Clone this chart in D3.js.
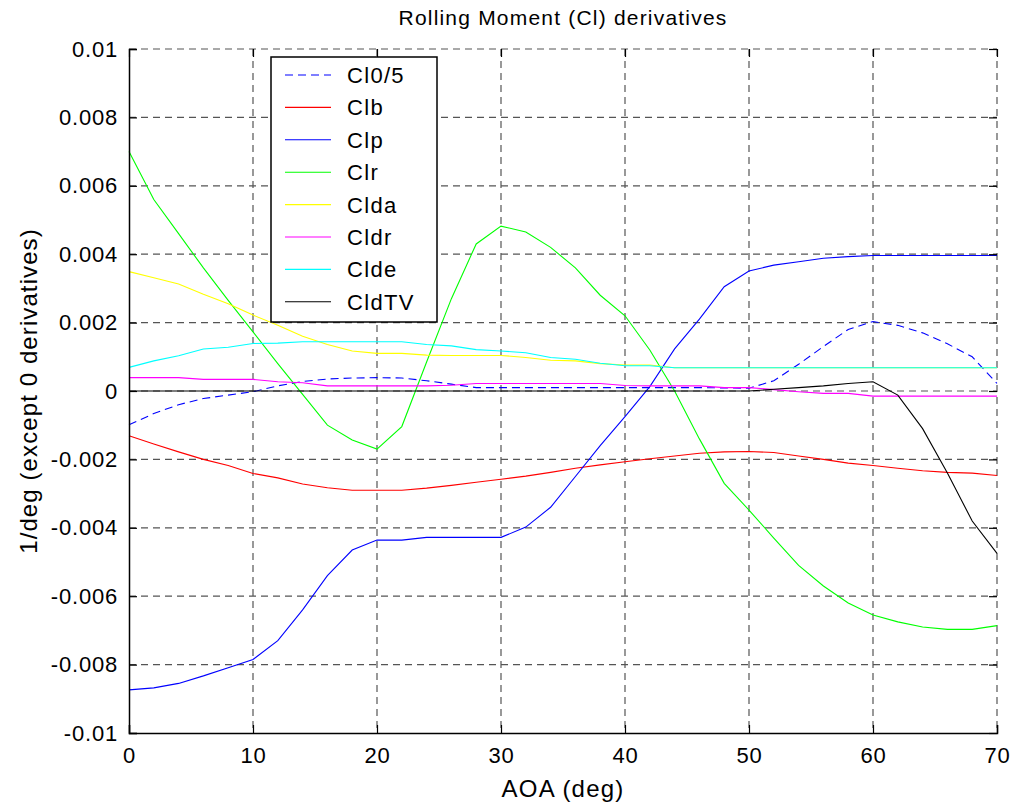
<!DOCTYPE html>
<html>
<head>
<meta charset="utf-8">
<script src="https://cdn.jsdelivr.net/npm/d3@7"></script>
<style>
  html, body { margin: 0; padding: 0; background: #fff; }
  text { font-family: Arial, "Liberation Sans", Helvetica, sans-serif; fill: #000; }
</style>
</head>
<body>
<svg id="chart" width="1015" height="805"></svg>
<script>
// ---------------- data ----------------
const aoa = [0,2,4,6,8,10,12,14,16,18,20,22,24,26,28,30,32,34,36,38,40,42,44,46,48,50,52,54,56,58,60,62,64,66,68,70];

const Cl0_5 = [-0.00099,-0.00066,-0.00040,-0.00022,-0.00012,-0.00002,0.00015,0.00028,0.00035,0.00038,0.00039,0.00038,0.00030,0.00020,0.00010,0.00010,0.00010,0.00010,0.00010,0.00010,0.00010,0.00010,0.00010,0.00010,0.00009,0.00008,0.00030,0.00078,0.00130,0.00180,0.00203,0.00192,0.00170,0.00138,0.00100,0.00022];
const Clb = [-0.00131,-0.00155,-0.00178,-0.00200,-0.00218,-0.00241,-0.00254,-0.00272,-0.00283,-0.00290,-0.00290,-0.00290,-0.00284,-0.00276,-0.00267,-0.00258,-0.00249,-0.00238,-0.00226,-0.00216,-0.00207,-0.00198,-0.00190,-0.00182,-0.00178,-0.00177,-0.00180,-0.00190,-0.00200,-0.00211,-0.00218,-0.00226,-0.00233,-0.00238,-0.00240,-0.00247];
const Clp = [-0.00874,-0.00868,-0.00855,-0.00833,-0.00809,-0.00785,-0.00730,-0.00640,-0.00540,-0.00465,-0.00436,-0.00436,-0.00428,-0.00428,-0.00428,-0.00428,-0.00398,-0.00340,-0.00250,-0.00160,-0.00075,0.00013,0.00123,0.00210,0.00305,0.00351,0.00368,0.00378,0.00388,0.00393,0.00396,0.00396,0.00396,0.00396,0.00396,0.00396];
const Clr = [0.0070,0.0056,0.0046,0.0036,0.00265,0.00173,0.0008,-0.0001,-0.0010,-0.00143,-0.0017,-0.00104,0.00085,0.0027,0.0043,0.00482,0.00465,0.0042,0.0036,0.0028,0.0022,0.0012,0.0000,-0.0014,-0.0027,-0.00348,-0.0043,-0.0051,-0.0057,-0.0062,-0.00655,-0.00675,-0.0069,-0.00697,-0.00697,-0.00686];
const Clda = [0.00349,0.00331,0.00313,0.00283,0.00255,0.00222,0.00192,0.00160,0.00136,0.00117,0.00110,0.00110,0.00105,0.00104,0.00104,0.00104,0.00098,0.00090,0.00088,0.00080,0.00076,0.00076,0.00068,0.00068,0.00068,0.00068,0.00068,0.00068,0.00068,0.00068,0.00068,0.00068,0.00068,0.00068,0.00068,0.00068];
const Cldr = [0.00039,0.00039,0.00039,0.00034,0.00034,0.00034,0.00027,0.00024,0.00015,0.00015,0.00015,0.00015,0.00015,0.00017,0.00022,0.00022,0.00022,0.00022,0.00022,0.00022,0.00016,0.00015,0.00015,0.00015,0.00010,0.00010,0.00004,-0.00002,-0.00007,-0.00007,-0.00015,-0.00015,-0.00015,-0.00015,-0.00015,-0.00015];
const Clde = [0.00069,0.00088,0.00103,0.00123,0.00128,0.00139,0.00140,0.00144,0.00144,0.00144,0.00144,0.00144,0.00136,0.00132,0.00121,0.00117,0.00112,0.00098,0.00093,0.00081,0.00074,0.00074,0.00068,0.00068,0.00068,0.00068,0.00068,0.00068,0.00068,0.00068,0.00068,0.00068,0.00068,0.00068,0.00068,0.00068];
const CldTV = [0,0,0,0,0,0,0,0,0,0,0,0,0,0,0,0,0,0,0,0,0,0,0,0,0,0,0.00005,0.00010,0.00015,0.00022,0.00027,-0.00012,-0.00110,-0.00240,-0.00380,-0.00475];

const seriesNames = ["Cl0/5","Clb","Clp","Clr","Clda","Cldr","Clde","CldTV"];
const seriesValues = [Cl0_5, Clb, Clp, Clr, Clda, Cldr, Clde, CldTV];
const seriesColors = ["#0000ff","#ff0000","#0000ff","#00ff00","#ffff00","#ff00ff","#00ffff","#000000"];
const seriesDash = ["8,5",null,null,null,null,null,null,null];

const xTicks = [0,10,20,30,40,50,60,70];
const yTicks = [-0.01,-0.008,-0.006,-0.004,-0.002,0,0.002,0.004,0.006,0.008,0.01];
const yTickLabels = ["-0.01","-0.008","-0.006","-0.004","-0.002","0","0.002","0.004","0.006","0.008","0.01"];

const titleText = "Rolling Moment (Cl) derivatives";
const xLabelText = "AOA (deg)";
const yLabelText = "1/deg (except 0 derivatives)";

// ---------------- layout ----------------
const L = 129, R = 997, T = 49, B = 733;
const svg = d3.select("#chart");
svg.append("rect").attr("width",1015).attr("height",805).attr("fill","#fff");

const x = d3.scaleLinear().domain([0,70]).range([L,R]);
const y = d3.scaleLinear().domain([-0.01,0.01]).range([B,T]);

// grid
const grid = svg.append("g");
grid.selectAll("line.gx").data(xTicks.slice(1,-1)).enter().append("line")
  .attr("x1",d=>x(d)).attr("x2",d=>x(d)).attr("y1",T).attr("y2",B)
  .attr("stroke","#555").attr("stroke-width",1.2).attr("stroke-dasharray","7,5");
grid.selectAll("line.gy").data(yTicks.slice(1,-1)).enter().append("line")
  .attr("x1",L).attr("x2",R).attr("y1",d=>y(d)).attr("y2",d=>y(d))
  .attr("stroke","#555").attr("stroke-width",1.2).attr("stroke-dasharray","7,5");
grid.append("line").attr("x1",L).attr("x2",R).attr("y1",T).attr("y2",T)
  .attr("stroke","#555").attr("stroke-width",1.2).attr("stroke-dasharray","7,5");
grid.append("line").attr("x1",R).attr("x2",R).attr("y1",T).attr("y2",B)
  .attr("stroke","#555").attr("stroke-width",1.2).attr("stroke-dasharray","7,5");

// series
const line = d3.line().x((d,i)=>x(aoa[i])).y(d=>y(d));
const plot = svg.append("g");
seriesValues.forEach((vals,k)=>{
  plot.append("path").datum(vals)
    .attr("d",line)
    .attr("fill","none")
    .attr("stroke",seriesColors[k])
    .attr("stroke-width",1.1)
    .attr("stroke-dasharray",seriesDash[k]);
});

// axes (box)
const axB = d3.axisBottom(x).tickValues(xTicks).tickSize(-8).tickPadding(14).tickFormat(d3.format("d"));
const axL = d3.axisLeft(y).tickValues(yTicks).tickSize(-8).tickPadding(11).tickFormat((d,i)=>yTickLabels[i]);
const gB = svg.append("g").attr("transform",`translate(0,${B})`).call(axB);
const gL = svg.append("g").attr("transform",`translate(${L},0)`).call(axL);
[gB,gL].forEach(g=>{
  g.select(".domain").attr("stroke","#000").attr("stroke-width",1.5);
  g.selectAll(".tick line").attr("stroke","#000").attr("stroke-width",1.2);
  g.selectAll(".tick text").style("font-size","22px").attr("fill","#000")
    .style("letter-spacing","0.8px")
    .style("font-family","Arial, 'Liberation Sans', sans-serif");
});
// top & right ticks
const gT = svg.append("g").attr("transform",`translate(0,${T})`).call(d3.axisTop(x).tickValues(xTicks).tickSize(-8).tickFormat(""));
const gR = svg.append("g").attr("transform",`translate(${R},0)`).call(d3.axisRight(y).tickValues(yTicks).tickSize(-8).tickFormat(""));
[gT,gR].forEach(g=>{
  g.select(".domain").remove();
  g.selectAll(".tick line").attr("stroke","#000").attr("stroke-width",1.2);
});

// titles
svg.append("text").attr("x",(L+R)/2).attr("y",25).attr("text-anchor","middle")
  .style("font-size","21px").style("letter-spacing","1.2px").text(titleText);
svg.append("text").attr("x",(L+R)/2).attr("y",797).attr("text-anchor","middle")
  .style("font-size","24px").style("letter-spacing","1.2px").text(xLabelText);
svg.append("text").attr("transform",`translate(37,${(T+B)/2}) rotate(-90)`).attr("text-anchor","middle")
  .style("font-size","24px").style("letter-spacing","1.1px").text(yLabelText);

// legend
const lg = svg.append("g");
lg.append("rect").attr("x",271).attr("y",57).attr("width",166).attr("height",265)
  .attr("fill","#fff").attr("stroke","#000").attr("stroke-width",1.5);
seriesNames.forEach((n,k)=>{
  const cy = 75 + k*32.4;
  lg.append("line").attr("x1",285).attr("x2",331).attr("y1",cy).attr("y2",cy)
    .attr("stroke",seriesColors[k]).attr("stroke-width",1.1).attr("stroke-dasharray",seriesDash[k]);
  lg.append("text").attr("x",347).attr("y",cy+8).style("font-size","22px")
    .style("letter-spacing","1.3px").text(n);
});
</script>
</body>
</html>
